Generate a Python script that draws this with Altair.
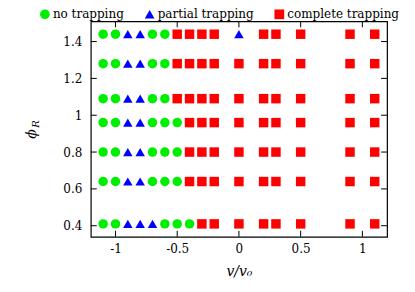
import altair as alt
import pandas as pd

# velocities (v/v0) sampled in every row
v_values = [-1.1, -1.0, -0.9, -0.8, -0.7, -0.6, -0.5, -0.4, -0.3, -0.2, 0.0, 0.2, 0.3, 0.5, 0.9, 1.1]
# phi_R rows
phi_values = [0.41, 0.64, 0.80, 0.96, 1.09, 1.28, 1.44]
# outcome per row (N = no, P = partial, C = complete trapping)
row_041 = ["N", "N", "P", "P", "P", "N", "N", "N", "C", "C", "C", "C", "C", "C", "C", "C"]
row_064 = ["N", "N", "P", "P", "N", "N", "N", "C", "C", "C", "C", "C", "C", "C", "C", "C"]
row_080 = ["N", "N", "P", "P", "N", "N", "N", "C", "C", "C", "C", "C", "C", "C", "C", "C"]
row_096 = ["N", "N", "P", "P", "N", "N", "N", "C", "C", "C", "C", "C", "C", "C", "C", "C"]
row_109 = ["N", "N", "P", "P", "N", "N", "C", "C", "C", "C", "C", "C", "C", "C", "C", "C"]
row_128 = ["N", "N", "P", "P", "N", "N", "C", "C", "C", "C", "C", "C", "C", "C", "C", "C"]
row_144 = ["N", "N", "P", "P", "N", "N", "C", "C", "C", "C", "P", "C", "C", "C", "C", "C"]

categories = ["no trapping", "partial trapping", "complete trapping"]
codes = {"N": "no trapping", "P": "partial trapping", "C": "complete trapping"}
colors = ["#00ee00", "#0000ff", "#ff0000"]
shapes = ["circle", "triangle-up", "square"]

x_ticks = [-1, -0.5, 0, 0.5, 1]
y_ticks = [0.4, 0.6, 0.8, 1, 1.2, 1.4]

rows = [row_041, row_064, row_080, row_096, row_109, row_128, row_144]
records = []
for phi, row in zip(phi_values, rows):
    for v, c in zip(v_values, row):
        records.append({"v": v, "phi": phi, "outcome": codes[c]})
df = pd.DataFrame(records)

W, H = 297, 216
FONT = "DejaVu Serif"
TL = 6

xscale = alt.Scale(domain=[-1.2, 1.2], nice=False, zero=False)
yscale = alt.Scale(domain=[0.34, 1.51], nice=False, zero=False)

legend = alt.Legend(
    title=None, orient="none", direction="horizontal", legendX=-52, legendY=-13,
    labelFont=FONT, labelFontSize=12, labelColor="black", symbolSize=95,
    symbolStrokeWidth=0, columnPadding=19, labelOffset=2, gridAlign="none",
    labelLimit=200,
)

points = alt.Chart(df).mark_point(filled=True, opacity=1, size=90).encode(
    x=alt.X("v:Q", scale=xscale,
            axis=alt.Axis(values=x_ticks, title="v/v₀", labelExpr="'' + datum.value",
                          tickSize=0, grid=False, domain=False, labelFont=FONT,
                          labelFontSize=12, labelColor="black", labelPadding=7,
                          titleFont=FONT, titleFontSize=14, titleFontStyle="italic",
                          titleFontWeight="normal", titleColor="black", titlePadding=10)),
    y=alt.Y("phi:Q", scale=yscale,
            axis=alt.Axis(values=y_ticks, title=None, labelExpr="'' + datum.value",
                          tickSize=0, grid=False, domain=False, labelFont=FONT,
                          labelFontSize=12, labelColor="black", labelPadding=9)),
    color=alt.Color("outcome:N", scale=alt.Scale(domain=categories, range=colors), legend=legend),
    shape=alt.Shape("outcome:N", scale=alt.Scale(domain=categories, range=shapes), legend=legend),
)

xt = pd.DataFrame({"t": x_ticks})
yt = pd.DataFrame({"t": y_ticks})

bottom_ticks = alt.Chart(xt).mark_rule(color="black", strokeWidth=1).encode(
    x=alt.X("t:Q", scale=xscale), y=alt.value(H), y2=alt.value(H - TL))
top_ticks = alt.Chart(xt).mark_rule(color="black", strokeWidth=1).encode(
    x=alt.X("t:Q", scale=xscale), y=alt.value(0), y2=alt.value(TL))
left_ticks = alt.Chart(yt).mark_rule(color="black", strokeWidth=1).encode(
    y=alt.Y("t:Q", scale=yscale), x=alt.value(0), x2=alt.value(TL))
right_ticks = alt.Chart(yt).mark_rule(color="black", strokeWidth=1).encode(
    y=alt.Y("t:Q", scale=yscale), x=alt.value(W), x2=alt.value(W - TL))

ytitle_phi = alt.Chart(pd.DataFrame({"s": ["ϕ"]})).mark_text(
    font=FONT, fontSize=14, fontStyle="italic", angle=270, color="black").encode(
    text="s:N", x=alt.value(-59), y=alt.value(H / 2 + 5))
ytitle_r = alt.Chart(pd.DataFrame({"s": ["R"]})).mark_text(
    font=FONT, fontSize=10, fontStyle="italic", angle=270, color="black").encode(
    text="s:N", x=alt.value(-55), y=alt.value(H / 2 - 5))

chart = alt.layer(points, bottom_ticks, top_ticks, left_ticks, right_ticks,
                  ytitle_phi, ytitle_r).properties(
    width=W, height=H,
    autosize=alt.AutoSizeParams(type="none"),
    padding={"left": 83, "top": 13, "right": 20, "bottom": 47},
).configure_view(stroke="black", strokeWidth=1.2)

chart.save("out.html", embed_options={"renderer": "svg", "actions": False})
